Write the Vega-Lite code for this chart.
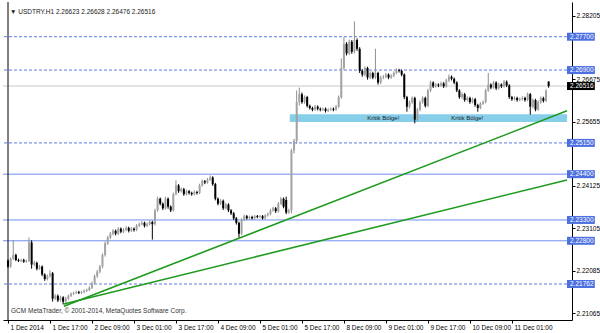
{
"$schema": "https://vega.github.io/schema/vega-lite/v6.json",
"width": 569, "height": 318,
"autosize": {"type": "none"},
"padding": {"left": 3, "top": 2, "right": 28, "bottom": 13},
"background": "white",
"config": {"view": {"stroke": null}, "font": "Liberation Sans"},
"datasets": {
"candles": [
{"i":0,"o":2.2232,"h":2.2235,"l":2.2215,"c":2.2218},
{"i":1,"o":2.2218,"h":2.2240,"l":2.2215,"c":2.2237},
{"i":2,"o":2.2237,"h":2.2281,"l":2.2234,"c":2.2246},
{"i":3,"o":2.2246,"h":2.2249,"l":2.2231,"c":2.2234},
{"i":4,"o":2.2234,"h":2.2237,"l":2.2229,"c":2.2232},
{"i":5,"o":2.2232,"h":2.2237,"l":2.2229,"c":2.2234},
{"i":6,"o":2.2234,"h":2.2237,"l":2.2227,"c":2.2230},
{"i":7,"o":2.2230,"h":2.2235,"l":2.2227,"c":2.2232},
{"i":8,"o":2.2232,"h":2.2288,"l":2.2229,"c":2.2276},
{"i":9,"o":2.2276,"h":2.2281,"l":2.2213,"c":2.2223},
{"i":10,"o":2.2223,"h":2.2232,"l":2.2219,"c":2.2227},
{"i":11,"o":2.2227,"h":2.2230,"l":2.2209,"c":2.2213},
{"i":12,"o":2.2213,"h":2.2222,"l":2.2210,"c":2.2218},
{"i":13,"o":2.2218,"h":2.2221,"l":2.2195,"c":2.2199},
{"i":14,"o":2.2199,"h":2.2202,"l":2.2184,"c":2.2188},
{"i":15,"o":2.2188,"h":2.2199,"l":2.2185,"c":2.2195},
{"i":16,"o":2.2195,"h":2.2209,"l":2.2192,"c":2.2202},
{"i":17,"o":2.2202,"h":2.2205,"l":2.2134,"c":2.2141},
{"i":18,"o":2.2141,"h":2.2152,"l":2.2138,"c":2.2148},
{"i":19,"o":2.2148,"h":2.2151,"l":2.2133,"c":2.2137},
{"i":20,"o":2.2137,"h":2.2148,"l":2.2134,"c":2.2144},
{"i":21,"o":2.2144,"h":2.2147,"l":2.2127,"c":2.2134},
{"i":22,"o":2.2134,"h":2.2145,"l":2.2131,"c":2.2141},
{"i":23,"o":2.2141,"h":2.2151,"l":2.2138,"c":2.2148},
{"i":24,"o":2.2148,"h":2.2156,"l":2.2145,"c":2.2153},
{"i":25,"o":2.2153,"h":2.2158,"l":2.2150,"c":2.2155},
{"i":26,"o":2.2155,"h":2.2160,"l":2.2152,"c":2.2157},
{"i":27,"o":2.2157,"h":2.2160,"l":2.2152,"c":2.2155},
{"i":28,"o":2.2155,"h":2.2160,"l":2.2152,"c":2.2157},
{"i":29,"o":2.2157,"h":2.2163,"l":2.2154,"c":2.2160},
{"i":30,"o":2.2160,"h":2.2165,"l":2.2157,"c":2.2162},
{"i":31,"o":2.2162,"h":2.2171,"l":2.2159,"c":2.2167},
{"i":32,"o":2.2167,"h":2.2182,"l":2.2164,"c":2.2178},
{"i":33,"o":2.2178,"h":2.2199,"l":2.2175,"c":2.2195},
{"i":34,"o":2.2195,"h":2.2210,"l":2.2191,"c":2.2206},
{"i":35,"o":2.2206,"h":2.2222,"l":2.2202,"c":2.2218},
{"i":36,"o":2.2218,"h":2.2250,"l":2.2214,"c":2.2246},
{"i":37,"o":2.2246,"h":2.2278,"l":2.2242,"c":2.2274},
{"i":38,"o":2.2274,"h":2.2292,"l":2.2270,"c":2.2288},
{"i":39,"o":2.2288,"h":2.2301,"l":2.2284,"c":2.2297},
{"i":40,"o":2.2297,"h":2.2308,"l":2.2293,"c":2.2304},
{"i":41,"o":2.2304,"h":2.2307,"l":2.2293,"c":2.2297},
{"i":42,"o":2.2297,"h":2.2313,"l":2.2294,"c":2.2309},
{"i":43,"o":2.2309,"h":2.2312,"l":2.2298,"c":2.2302},
{"i":44,"o":2.2302,"h":2.2310,"l":2.2299,"c":2.2306},
{"i":45,"o":2.2306,"h":2.2315,"l":2.2303,"c":2.2311},
{"i":46,"o":2.2311,"h":2.2314,"l":2.2300,"c":2.2304},
{"i":47,"o":2.2304,"h":2.2313,"l":2.2301,"c":2.2309},
{"i":48,"o":2.2309,"h":2.2312,"l":2.2302,"c":2.2306},
{"i":49,"o":2.2306,"h":2.2320,"l":2.2303,"c":2.2316},
{"i":50,"o":2.2316,"h":2.2324,"l":2.2313,"c":2.2320},
{"i":51,"o":2.2320,"h":2.2327,"l":2.2317,"c":2.2323},
{"i":52,"o":2.2323,"h":2.2326,"l":2.2312,"c":2.2316},
{"i":53,"o":2.2316,"h":2.2324,"l":2.2313,"c":2.2320},
{"i":54,"o":2.2320,"h":2.2329,"l":2.2317,"c":2.2325},
{"i":55,"o":2.2325,"h":2.2328,"l":2.2283,"c":2.2320},
{"i":56,"o":2.2320,"h":2.2357,"l":2.2317,"c":2.2353},
{"i":57,"o":2.2353,"h":2.2386,"l":2.2350,"c":2.2381},
{"i":58,"o":2.2381,"h":2.2384,"l":2.2365,"c":2.2369},
{"i":59,"o":2.2369,"h":2.2372,"l":2.2354,"c":2.2358},
{"i":60,"o":2.2358,"h":2.2386,"l":2.2355,"c":2.2381},
{"i":61,"o":2.2381,"h":2.2384,"l":2.2357,"c":2.2362},
{"i":62,"o":2.2362,"h":2.2365,"l":2.2349,"c":2.2353},
{"i":63,"o":2.2353,"h":2.2396,"l":2.2350,"c":2.2392},
{"i":64,"o":2.2392,"h":2.2425,"l":2.2389,"c":2.2413},
{"i":65,"o":2.2413,"h":2.2416,"l":2.2395,"c":2.2399},
{"i":66,"o":2.2399,"h":2.2408,"l":2.2396,"c":2.2404},
{"i":67,"o":2.2404,"h":2.2407,"l":2.2388,"c":2.2392},
{"i":68,"o":2.2392,"h":2.2403,"l":2.2389,"c":2.2399},
{"i":69,"o":2.2399,"h":2.2402,"l":2.2391,"c":2.2395},
{"i":70,"o":2.2395,"h":2.2398,"l":2.2388,"c":2.2392},
{"i":71,"o":2.2392,"h":2.2401,"l":2.2389,"c":2.2397},
{"i":72,"o":2.2397,"h":2.2400,"l":2.2391,"c":2.2395},
{"i":73,"o":2.2395,"h":2.2417,"l":2.2392,"c":2.2413},
{"i":74,"o":2.2413,"h":2.2427,"l":2.2410,"c":2.2423},
{"i":75,"o":2.2423,"h":2.2426,"l":2.2416,"c":2.2420},
{"i":76,"o":2.2420,"h":2.2431,"l":2.2417,"c":2.2427},
{"i":77,"o":2.2427,"h":2.2437,"l":2.2424,"c":2.2432},
{"i":78,"o":2.2432,"h":2.2435,"l":2.2412,"c":2.2416},
{"i":79,"o":2.2416,"h":2.2419,"l":2.2377,"c":2.2381},
{"i":80,"o":2.2381,"h":2.2384,"l":2.2365,"c":2.2369},
{"i":81,"o":2.2369,"h":2.2380,"l":2.2366,"c":2.2376},
{"i":82,"o":2.2376,"h":2.2379,"l":2.2354,"c":2.2358},
{"i":83,"o":2.2358,"h":2.2371,"l":2.2355,"c":2.2367},
{"i":84,"o":2.2367,"h":2.2370,"l":2.2349,"c":2.2353},
{"i":85,"o":2.2353,"h":2.2356,"l":2.2342,"c":2.2346},
{"i":86,"o":2.2346,"h":2.2349,"l":2.2330,"c":2.2334},
{"i":87,"o":2.2334,"h":2.2337,"l":2.2319,"c":2.2323},
{"i":88,"o":2.2323,"h":2.2326,"l":2.2288,"c":2.2297},
{"i":89,"o":2.2297,"h":2.2334,"l":2.2294,"c":2.2330},
{"i":90,"o":2.2330,"h":2.2343,"l":2.2327,"c":2.2339},
{"i":91,"o":2.2339,"h":2.2342,"l":2.2331,"c":2.2334},
{"i":92,"o":2.2334,"h":2.2340,"l":2.2331,"c":2.2337},
{"i":93,"o":2.2337,"h":2.2340,"l":2.2331,"c":2.2334},
{"i":94,"o":2.2334,"h":2.2342,"l":2.2331,"c":2.2339},
{"i":95,"o":2.2339,"h":2.2342,"l":2.2334,"c":2.2337},
{"i":96,"o":2.2337,"h":2.2342,"l":2.2334,"c":2.2339},
{"i":97,"o":2.2339,"h":2.2342,"l":2.2331,"c":2.2334},
{"i":98,"o":2.2334,"h":2.2344,"l":2.2331,"c":2.2341},
{"i":99,"o":2.2341,"h":2.2348,"l":2.2338,"c":2.2344},
{"i":100,"o":2.2344,"h":2.2357,"l":2.2341,"c":2.2353},
{"i":101,"o":2.2353,"h":2.2362,"l":2.2350,"c":2.2358},
{"i":102,"o":2.2358,"h":2.2361,"l":2.2347,"c":2.2351},
{"i":103,"o":2.2351,"h":2.2373,"l":2.2348,"c":2.2369},
{"i":104,"o":2.2369,"h":2.2385,"l":2.2366,"c":2.2381},
{"i":105,"o":2.2381,"h":2.2384,"l":2.2358,"c":2.2362},
{"i":106,"o":2.2378,"h":2.2386,"l":2.2344,"c":2.2348},
{"i":107,"o":2.2348,"h":2.2357,"l":2.2345,"c":2.2353},
{"i":108,"o":2.2353,"h":2.2501,"l":2.2346,"c":2.2497},
{"i":109,"o":2.2497,"h":2.2525,"l":2.2490,"c":2.2520},
{"i":110,"o":2.2520,"h":2.2641,"l":2.2513,"c":2.2613},
{"i":111,"o":2.2613,"h":2.2648,"l":2.2605,"c":2.2632},
{"i":112,"o":2.2632,"h":2.2636,"l":2.2609,"c":2.2613},
{"i":113,"o":2.2613,"h":2.2629,"l":2.2609,"c":2.2625},
{"i":114,"o":2.2625,"h":2.2628,"l":2.2600,"c":2.2604},
{"i":115,"o":2.2604,"h":2.2607,"l":2.2595,"c":2.2599},
{"i":116,"o":2.2599,"h":2.2602,"l":2.2591,"c":2.2595},
{"i":117,"o":2.2595,"h":2.2606,"l":2.2592,"c":2.2602},
{"i":118,"o":2.2602,"h":2.2605,"l":2.2593,"c":2.2597},
{"i":119,"o":2.2597,"h":2.2600,"l":2.2591,"c":2.2595},
{"i":120,"o":2.2595,"h":2.2600,"l":2.2592,"c":2.2597},
{"i":121,"o":2.2597,"h":2.2600,"l":2.2588,"c":2.2592},
{"i":122,"o":2.2592,"h":2.2598,"l":2.2589,"c":2.2595},
{"i":123,"o":2.2595,"h":2.2600,"l":2.2592,"c":2.2597},
{"i":124,"o":2.2597,"h":2.2600,"l":2.2591,"c":2.2595},
{"i":125,"o":2.2595,"h":2.2606,"l":2.2592,"c":2.2602},
{"i":126,"o":2.2602,"h":2.2629,"l":2.2599,"c":2.2625},
{"i":127,"o":2.2625,"h":2.2718,"l":2.2621,"c":2.2695},
{"i":128,"o":2.2695,"h":2.2769,"l":2.2690,"c":2.2753},
{"i":129,"o":2.2753,"h":2.2757,"l":2.2725,"c":2.2730},
{"i":130,"o":2.2730,"h":2.2763,"l":2.2726,"c":2.2758},
{"i":131,"o":2.2758,"h":2.2762,"l":2.2729,"c":2.2734},
{"i":132,"o":2.2734,"h":2.2807,"l":2.2730,"c":2.2762},
{"i":133,"o":2.2762,"h":2.2766,"l":2.2736,"c":2.2741},
{"i":134,"o":2.2741,"h":2.2745,"l":2.2683,"c":2.2688},
{"i":135,"o":2.2688,"h":2.2692,"l":2.2674,"c":2.2679},
{"i":136,"o":2.2679,"h":2.2699,"l":2.2675,"c":2.2695},
{"i":137,"o":2.2695,"h":2.2698,"l":2.2667,"c":2.2672},
{"i":138,"o":2.2672,"h":2.2687,"l":2.2668,"c":2.2683},
{"i":139,"o":2.2683,"h":2.2686,"l":2.2668,"c":2.2672},
{"i":140,"o":2.2672,"h":2.2741,"l":2.2668,"c":2.2683},
{"i":141,"o":2.2683,"h":2.2686,"l":2.2655,"c":2.2660},
{"i":142,"o":2.2660,"h":2.2676,"l":2.2656,"c":2.2672},
{"i":143,"o":2.2672,"h":2.2678,"l":2.2668,"c":2.2674},
{"i":144,"o":2.2674,"h":2.2683,"l":2.2670,"c":2.2679},
{"i":145,"o":2.2679,"h":2.2682,"l":2.2668,"c":2.2672},
{"i":146,"o":2.2672,"h":2.2680,"l":2.2669,"c":2.2676},
{"i":147,"o":2.2676,"h":2.2687,"l":2.2673,"c":2.2683},
{"i":148,"o":2.2683,"h":2.2694,"l":2.2680,"c":2.2690},
{"i":149,"o":2.2690,"h":2.2693,"l":2.2684,"c":2.2688},
{"i":150,"o":2.2688,"h":2.2691,"l":2.2675,"c":2.2679},
{"i":151,"o":2.2679,"h":2.2682,"l":2.2620,"c":2.2625},
{"i":152,"o":2.2625,"h":2.2628,"l":2.2590,"c":2.2602},
{"i":153,"o":2.2602,"h":2.2617,"l":2.2598,"c":2.2613},
{"i":154,"o":2.2613,"h":2.2627,"l":2.2609,"c":2.2623},
{"i":155,"o":2.2623,"h":2.2626,"l":2.2562,"c":2.2571},
{"i":156,"o":2.2571,"h":2.2599,"l":2.2567,"c":2.2595},
{"i":157,"o":2.2595,"h":2.2617,"l":2.2591,"c":2.2613},
{"i":158,"o":2.2613,"h":2.2627,"l":2.2609,"c":2.2623},
{"i":159,"o":2.2623,"h":2.2626,"l":2.2600,"c":2.2604},
{"i":160,"o":2.2604,"h":2.2645,"l":2.2601,"c":2.2641},
{"i":161,"o":2.2641,"h":2.2664,"l":2.2637,"c":2.2660},
{"i":162,"o":2.2660,"h":2.2663,"l":2.2647,"c":2.2651},
{"i":163,"o":2.2651,"h":2.2659,"l":2.2648,"c":2.2655},
{"i":164,"o":2.2655,"h":2.2658,"l":2.2649,"c":2.2653},
{"i":165,"o":2.2653,"h":2.2662,"l":2.2650,"c":2.2658},
{"i":166,"o":2.2658,"h":2.2661,"l":2.2647,"c":2.2651},
{"i":167,"o":2.2651,"h":2.2669,"l":2.2648,"c":2.2665},
{"i":168,"o":2.2665,"h":2.2679,"l":2.2661,"c":2.2674},
{"i":169,"o":2.2674,"h":2.2677,"l":2.2665,"c":2.2669},
{"i":170,"o":2.2669,"h":2.2672,"l":2.2656,"c":2.2660},
{"i":171,"o":2.2660,"h":2.2663,"l":2.2637,"c":2.2641},
{"i":172,"o":2.2641,"h":2.2644,"l":2.2621,"c":2.2625},
{"i":173,"o":2.2625,"h":2.2636,"l":2.2621,"c":2.2632},
{"i":174,"o":2.2632,"h":2.2635,"l":2.2614,"c":2.2618},
{"i":175,"o":2.2618,"h":2.2627,"l":2.2615,"c":2.2623},
{"i":176,"o":2.2623,"h":2.2626,"l":2.2609,"c":2.2613},
{"i":177,"o":2.2613,"h":2.2624,"l":2.2610,"c":2.2620},
{"i":178,"o":2.2620,"h":2.2623,"l":2.2602,"c":2.2606},
{"i":179,"o":2.2606,"h":2.2609,"l":2.2590,"c":2.2599},
{"i":180,"o":2.2599,"h":2.2613,"l":2.2596,"c":2.2609},
{"i":181,"o":2.2609,"h":2.2617,"l":2.2606,"c":2.2613},
{"i":182,"o":2.2613,"h":2.2645,"l":2.2610,"c":2.2641},
{"i":183,"o":2.2641,"h":2.2683,"l":2.2638,"c":2.2655},
{"i":184,"o":2.2655,"h":2.2658,"l":2.2644,"c":2.2648},
{"i":185,"o":2.2648,"h":2.2664,"l":2.2645,"c":2.2660},
{"i":186,"o":2.2660,"h":2.2663,"l":2.2642,"c":2.2646},
{"i":187,"o":2.2646,"h":2.2659,"l":2.2643,"c":2.2655},
{"i":188,"o":2.2655,"h":2.2658,"l":2.2647,"c":2.2651},
{"i":189,"o":2.2651,"h":2.2666,"l":2.2648,"c":2.2662},
{"i":190,"o":2.2662,"h":2.2665,"l":2.2649,"c":2.2653},
{"i":191,"o":2.2653,"h":2.2656,"l":2.2621,"c":2.2625},
{"i":192,"o":2.2625,"h":2.2628,"l":2.2616,"c":2.2620},
{"i":193,"o":2.2620,"h":2.2627,"l":2.2617,"c":2.2623},
{"i":194,"o":2.2623,"h":2.2626,"l":2.2614,"c":2.2618},
{"i":195,"o":2.2618,"h":2.2624,"l":2.2615,"c":2.2620},
{"i":196,"o":2.2620,"h":2.2627,"l":2.2617,"c":2.2623},
{"i":197,"o":2.2623,"h":2.2626,"l":2.2614,"c":2.2618},
{"i":198,"o":2.2618,"h":2.2636,"l":2.2615,"c":2.2632},
{"i":199,"o":2.2632,"h":2.2635,"l":2.2583,"c":2.2602},
{"i":200,"o":2.2602,"h":2.2622,"l":2.2598,"c":2.2618},
{"i":201,"o":2.2618,"h":2.2621,"l":2.2591,"c":2.2595},
{"i":202,"o":2.2595,"h":2.2617,"l":2.2592,"c":2.2613},
{"i":203,"o":2.2613,"h":2.2627,"l":2.2609,"c":2.2623},
{"i":204,"o":2.2623,"h":2.2626,"l":2.2612,"c":2.2616},
{"i":205,"o":2.2616,"h":2.2644,"l":2.2613,"c":2.2640},
{"i":206,"o":2.26623,"h":2.26628,"l":2.26476,"c":2.26516}
],
"dashed": [{"p":2.277},{"p":2.269},{"p":2.2515},{"p":2.21762}],
"solid": [{"p":2.244},{"p":2.233},{"p":2.228}],
"levels": [{"p":2.277},{"p":2.269},{"p":2.2515},{"p":2.244},{"p":2.233},{"p":2.228},{"p":2.21762}],
"last": [{"p":2.26516}],
"zone": [{"i1":107.4,"i2":213,"p1":2.2565,"p2":2.2584}],
"zoneLabels": [{"i":143,"p":2.2574},{"i":175,"p":2.2574}],
"trend": [{"id":1,"i":21.3,"p":2.2123},{"id":1,"i":213,"p":2.2592},{"id":2,"i":21.3,"p":2.2128},{"id":2,"i":213,"p":2.2426}]
},
"layer": [
{
"data": {"name": "zone"},
"mark": {"type": "rect", "color": "#87ceeb", "clip": true},
"encoding": {
"x": {"field": "i1", "type": "quantitative", "title": null, "scale": {"domain": [0, 213], "nice": false, "zero": false},
"axis": {"values": [0,16,32,48,64,80,96,112,128,144,160,176,192],
"labelExpr": "['1 Dec 2014','1 Dec 17:00','2 Dec 09:00','3 Dec 01:00','3 Dec 17:00','4 Dec 09:00','5 Dec 01:00','5 Dec 17:00','8 Dec 09:00','9 Dec 01:00','9 Dec 17:00','10 Dec 09:00','11 Dec 01:00'][round(datum.value/16)]",
"title": null, "grid": false, "domainColor": "#000", "tickColor": "#000", "tickSize": 3,
"labelAlign": "left", "labelBaseline": "top", "labelPadding": 1, "labelOffset": 2,
"labelFontSize": 6.5, "labelColor": "#000", "labelFlush": false, "labelOverlap": false, "labelBound": false}},
"x2": {"field": "i2"},
"y": {"field": "p1", "type": "quantitative", "title": null, "scale": {"domain": [2.21018, 2.28414], "nice": false, "zero": false},
"axis": {"orient": "right", "values": [2.28205,2.27185,2.26675,2.26165,2.25655,2.24635,2.24125,2.23615,2.23105,2.22595,2.22085,2.21575,2.21065],
"format": ".5f", "title": null, "grid": false, "domainColor": "#000", "tickColor": "#000", "tickSize": 3,
"labelPadding": 1, "labelFontSize": 6.5, "labelColor": "#000", "labelOverlap": false, "labelBound": false, "labelFlush": false}},
"y2": {"field": "p2"}
}
},
{
"data": {"name": "dashed"},
"mark": {"type": "rule", "color": "#5b7ce6", "strokeDash": [3, 2], "strokeWidth": 1},
"encoding": {"y": {"field": "p", "type": "quantitative", "title": null}}
},
{
"data": {"name": "solid"},
"mark": {"type": "rule", "color": "#6f8ef0", "strokeWidth": 1},
"encoding": {"y": {"field": "p", "type": "quantitative", "title": null}}
},
{
"data": {"name": "last"},
"mark": {"type": "rule", "color": "#c8c8c8", "strokeWidth": 1},
"encoding": {"y": {"field": "p", "type": "quantitative", "title": null}}
},
{
"data": {"name": "zoneLabels"},
"mark": {"type": "text", "text": "Kritik Bölge!", "fontSize": 6, "color": "#1a1a1a", "baseline": "middle"},
"encoding": {"x": {"field": "i", "type": "quantitative", "title": null}, "y": {"field": "p", "type": "quantitative", "title": null}}
},
{
"data": {"name": "trend"},
"mark": {"type": "line", "color": "#1e9a1e", "strokeWidth": 1.6, "clip": true},
"encoding": {"x": {"field": "i", "type": "quantitative", "title": null}, "y": {"field": "p", "type": "quantitative", "title": null}, "detail": {"field": "id"}}
},
{
"data": {"name": "candles"},
"mark": {"type": "rule", "strokeWidth": 1, "clip": true},
"encoding": {
"x": {"field": "i", "type": "quantitative", "title": null},
"y": {"field": "l", "type": "quantitative", "title": null},
"y2": {"field": "h"},
"color": {"condition": {"test": "datum.c >= datum.o", "value": "#8f8f8f"}, "value": "#000000"}
}
},
{
"data": {"name": "candles"},
"mark": {"type": "bar", "size": 2, "clip": true},
"encoding": {
"x": {"field": "i", "type": "quantitative", "title": null},
"y": {"field": "o", "type": "quantitative", "title": null},
"y2": {"field": "c"},
"color": {"condition": {"test": "datum.c >= datum.o", "value": "#a3a3a3"}, "value": "#000000"}
}
},
{
"data": {"values": [{}]},
"mark": {"type": "rule", "color": "#000", "strokeWidth": 1},
"encoding": {"x": {"datum": 0, "type": "quantitative", "title": null}}
},
{
"data": {"name": "levels"},
"mark": {"type": "bar", "color": "#4d70e0", "size": 8, "clip": false, "orient": "horizontal"},
"encoding": {"x": {"datum": 213, "type": "quantitative", "title": null}, "x2": {"datum": 223.6}, "y": {"field": "p", "type": "quantitative", "title": null}}
},
{
"data": {"name": "levels"},
"mark": {"type": "text", "align": "left", "baseline": "middle", "dx": 3, "fontSize": 6.5, "color": "#ffffff", "clip": false},
"encoding": {"x": {"datum": 213, "type": "quantitative", "title": null}, "y": {"field": "p", "type": "quantitative", "title": null}, "text": {"field": "p", "type": "quantitative", "format": ".5f"}}
},
{
"data": {"name": "last"},
"mark": {"type": "bar", "color": "#000000", "size": 8, "clip": false, "orient": "horizontal"},
"encoding": {"x": {"datum": 213, "type": "quantitative", "title": null}, "x2": {"datum": 223.6}, "y": {"field": "p", "type": "quantitative", "title": null}}
},
{
"data": {"name": "last"},
"mark": {"type": "text", "align": "left", "baseline": "middle", "dx": 3, "fontSize": 6.5, "color": "#ffffff", "clip": false},
"encoding": {"x": {"datum": 213, "type": "quantitative", "title": null}, "y": {"field": "p", "type": "quantitative", "title": null}, "text": {"field": "p", "type": "quantitative", "format": ".5f"}}
},
{
"data": {"values": [{"t": "▼ USDTRY.H1  2.26623 2.26628 2.26476 2.26516"}]},
"mark": {"type": "text", "align": "left", "baseline": "middle", "dx": 2, "dy": 5, "fontSize": 6.5, "color": "#222222"},
"encoding": {"x": {"datum": 0, "type": "quantitative", "title": null}, "y": {"datum": 2.28414, "type": "quantitative", "title": null}, "text": {"field": "t"}}
},
{
"data": {"values": [{"t": "GCM MetaTrader, © 2001-2014, MetaQuotes Software Corp."}]},
"mark": {"type": "text", "align": "left", "baseline": "middle", "dx": 3, "dy": -4, "fontSize": 6.5, "color": "#333333"},
"encoding": {"x": {"datum": 0, "type": "quantitative", "title": null}, "y": {"datum": 2.21018, "type": "quantitative", "title": null}, "text": {"field": "t"}}
}
]
}
